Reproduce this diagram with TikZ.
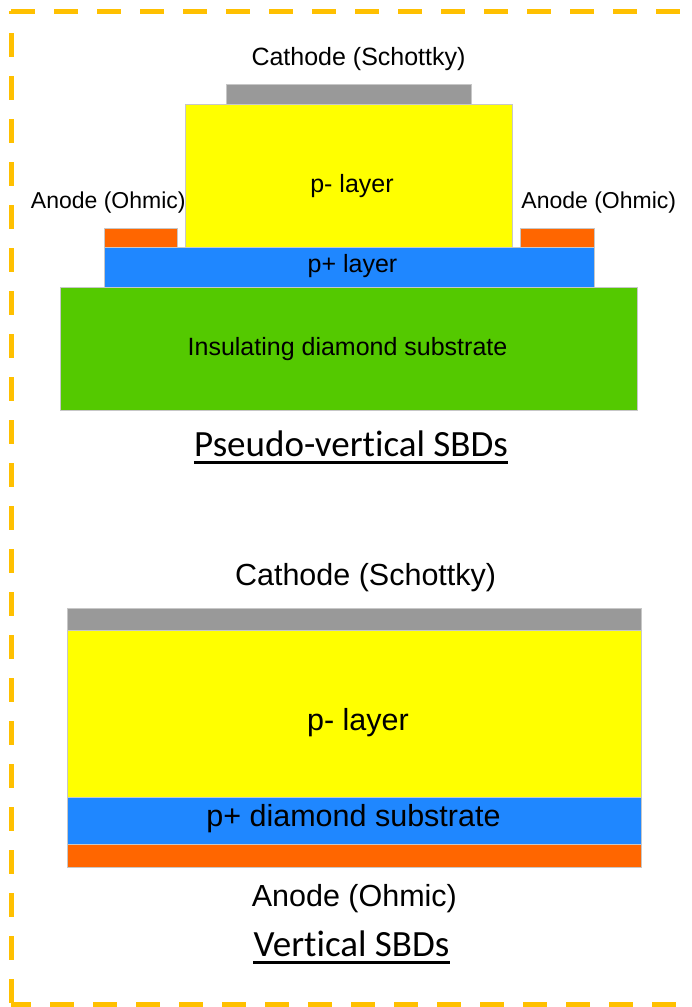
\documentclass[tikz,border=0pt]{standalone}
\usepackage{fontspec}
\setmainfont{Liberation Sans}
\newfontfamily\titlefont[Ligatures=NoCommon]{Carlito}

\definecolor{cathodegray}{RGB}{153,153,153}
\definecolor{playeryellow}{RGB}{255,255,0}
\definecolor{pplusblue}{RGB}{31,135,255}
\definecolor{anodeorange}{RGB}{255,102,0}
\definecolor{substrategreen}{RGB}{84,201,0}
\definecolor{frameorange}{RGB}{255,192,0}

\begin{document}
\begin{tikzpicture}[x=1pt,y=-1pt,
  slab/.style={draw=black!22, line width=0.6pt},
  frame/.style={draw=frameorange, line width=5pt, dash pattern=on 24pt off 19pt},
  lblsmall/.style={inner sep=0pt, anchor=base, font=\fontsize{23}{27}\selectfont},
  lblmid/.style={inner sep=0pt, anchor=base, font=\fontsize{25}{30}\selectfont},
  lblbig/.style={inner sep=0pt, anchor=base, font=\fontsize{30.5}{36}\selectfont},
  title/.style={inner sep=0pt, anchor=base, font=\titlefont\fontsize{37}{44}\selectfont},
  uline/.style={line width=2.6pt}
]
\useasboundingbox (0,0) rectangle (692,1007);
\clip (0,0) rectangle (692,1007);
\fill[white] (0,0) rectangle (692,1007);

% dashed frame (runs off the right side)
\draw[frame] (11,11) -- (720,11);
\draw[frame, dash phase=21pt] (11,11) -- (11,1004);
\draw[frame, dash phase=4pt] (11,1004) -- (720,1004);

% ---- pseudo-vertical structure ----
\fill[slab, fill=substrategreen] (60,287) rectangle (637,410);
\fill[slab, fill=pplusblue] (104,247) rectangle (594,287);
\fill[slab, fill=anodeorange] (104,228) rectangle (177,247);
\fill[slab, fill=anodeorange] (520,228) rectangle (594,247);
\fill[slab, fill=playeryellow] (185,104) rectangle (512,247);
\fill[slab, fill=cathodegray] (226,84) rectangle (471,104);

\node[lblmid] (pvcath) at (358.5,65) {Cathode (Schottky)};
\node[lblsmall] (pvanodeL) at (108.3,208) {Anode (Ohmic)};
\node[lblsmall] (pvanodeR) at (598.8,208) {Anode (Ohmic)};
\node[lblmid] (pvpminus) at (352,192) {p- layer};
\node[lblmid] (pvpplus) at (352.5,272) {p+ layer};
\node[lblmid] (pvsub) at (347.5,355) {Insulating diamond substrate};
\node[title] (pvtitle) at (351,456.7) {Pseudo-vertical SBDs};
\draw[uline] ([yshift=-5.5pt]pvtitle.base west) -- ([yshift=-5.5pt]pvtitle.base east);

% ---- vertical structure ----
\fill[slab, fill=anodeorange] (67,844) rectangle (641,867);
\fill[slab, fill=pplusblue] (67,797) rectangle (641,844);
\fill[slab, fill=playeryellow] (67,630) rectangle (641,797);
\fill[slab, fill=cathodegray] (67,608) rectangle (641,630);

\node[lblbig] (vcath) at (365.6,585) {Cathode (Schottky)};
\node[lblbig] (vpminus) at (358,730.5) {p- layer};
\node[lblbig] (vpplus) at (353.5,826.5) {p+ diamond substrate};
\node[lblbig] (vanode) at (354.4,906.7) {Anode (Ohmic)};
\node[title] (vtitle) at (351.5,956.7) {Vertical SBDs};
\draw[uline] ([yshift=-5.5pt]vtitle.base west) -- ([yshift=-5.5pt]vtitle.base east);
\end{tikzpicture}
\end{document}
